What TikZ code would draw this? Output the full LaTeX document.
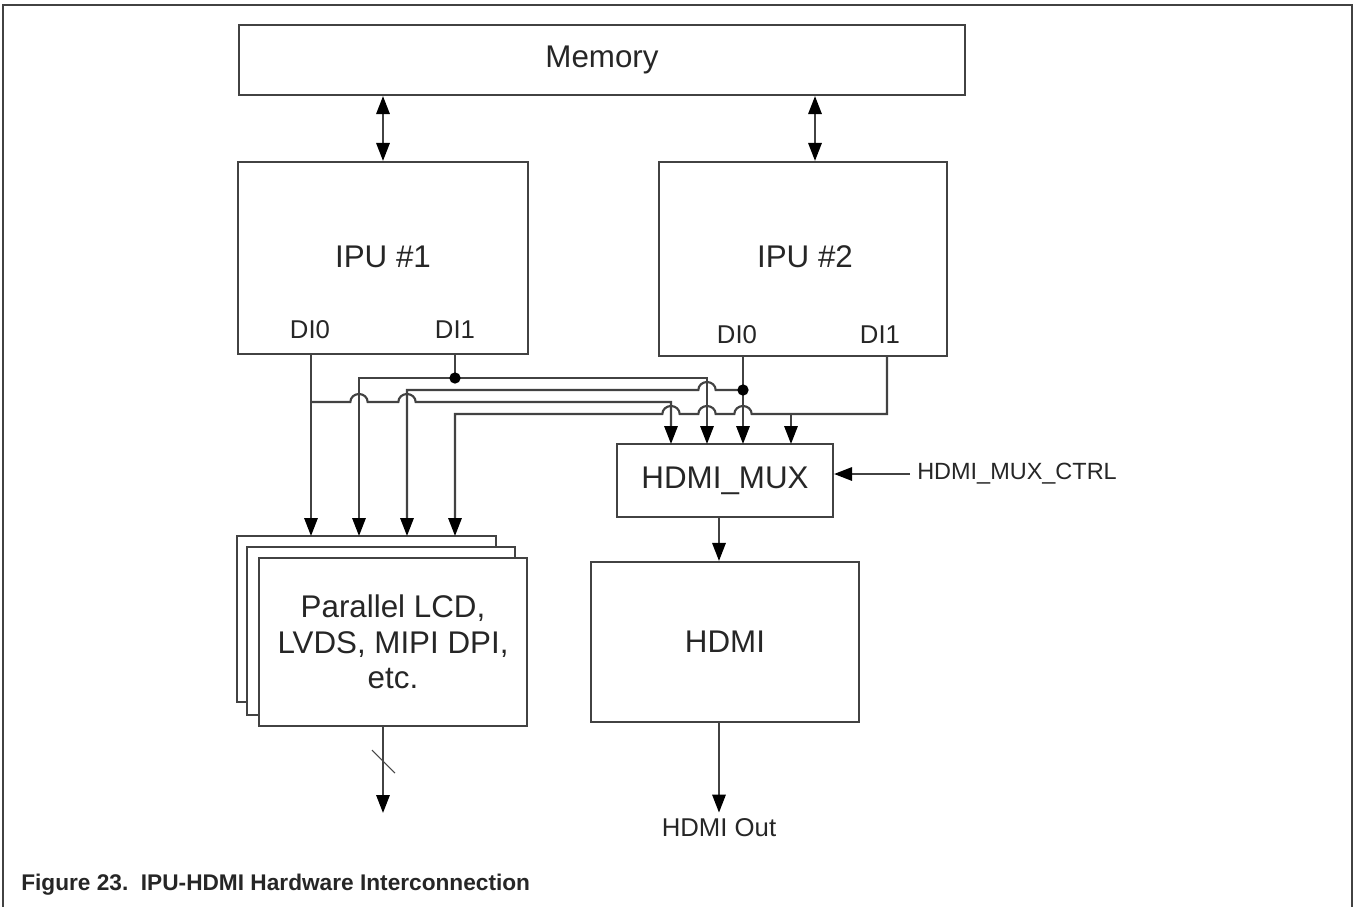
\documentclass[tikz,border=0pt]{standalone}
\usepackage{fontspec}
\setmainfont{Liberation Sans}
\usetikzlibrary{arrows.meta,calc}
\begin{document}
\begin{tikzpicture}[x=0.75pt,y=-0.75pt,
  ln/.style={line width=1.6pt, draw=black!74},
  box/.style={ln, rectangle, inner sep=0pt, fill=white, text=black!85, font=\fontsize{23.5}{26.5}\selectfont, align=center},
  big/.style={inner sep=0pt, text=black!85, font=\fontsize{23.5}{26.5}\selectfont},
  lbl/.style={inner sep=0pt, text=black!85, font=\fontsize{19.3}{22}\selectfont},
  arr/.style={ln, -{Triangle[length=13.5pt,width=10pt,color=black]}},
  larr/.style={ln, {Triangle[length=13.5pt,width=10pt,color=black]}-},
  darr/.style={ln, {Triangle[length=13.5pt,width=10pt,color=black]}-{Triangle[length=13.5pt,width=10pt,color=black]}},
  jdot/.style={circle, fill=black, inner sep=0pt, minimum size=8.5pt},
  hop/.style={insert path={-- ($(#1)+(-6.5pt,0)$) arc[start angle=180, end angle=0, x radius=6.5pt, y radius=6pt]}}
]
\useasboundingbox (0,0) rectangle (1354,907);
% outer frame
\draw[ln] (3,907) -- (3,5) -- (1352,5) -- (1352,907);

% boxes
\node[box, minimum width=544.5pt, minimum height=52.5pt] (mem) at (602,60) {Memory};
\node[box, minimum width=217.5pt, minimum height=144pt] (ipu1) at (383,258) {};
\node[box, minimum width=216pt, minimum height=145.5pt] (ipu2) at (803,259) {};
\node[big] (ipu1t) at (383,257) {IPU \#1};
\node[big] (ipu2t) at (805,257) {IPU \#2};
\node[lbl] (i1d0) at (310,330) {DI0};
\node[lbl] (i1d1) at (455,330) {DI1};
\node[lbl] (i2d0) at (737,335) {DI0};
\node[lbl] (i2d1) at (880,335) {DI1};

\node[box, minimum width=162pt, minimum height=54.75pt] (mux) at (725,480.5) {HDMI\_MUX};
\node[box, minimum width=201pt, minimum height=120pt] (hdmi) at (725,642) {HDMI};

\node[box, minimum width=194.25pt, minimum height=124.5pt] (lcda) at (366.5,619) {};
\node[box, minimum width=201pt, minimum height=126pt] (lcdb) at (381,631) {};
\node[box, minimum width=201pt, minimum height=126pt] (lcdc) at (393,642) {Parallel LCD,\\LVDS, MIPI DPI,\\etc.};

\node[inner xsep=5.25pt, inner ysep=0pt, anchor=west, text=black!85, font=\fontsize{17.6}{20}\selectfont] (ctrl) at (910,474) {HDMI\_MUX\_CTRL};
\node[lbl, inner sep=4.5pt] (out) at (719,828) {HDMI Out};
\node[anchor=west, inner sep=0pt, text=black!85, font=\bfseries\fontsize{17}{20}\selectfont] (cap) at (21,885) {Figure 23.\ \ IPU-HDMI Hardware Interconnection};

% pin coordinates
\coordinate (l1) at (311,536);
\coordinate (l2) at (359,536);
\coordinate (l3) at (407,536);
\coordinate (l4) at (455,536);
\coordinate (m1) at (671,444);
\coordinate (m2) at (707,444);
\coordinate (m3) at (743,444);
\coordinate (m4) at (791,444);
\coordinate (jA) at (311,402);
\coordinate (dot1) at (455,378);
\coordinate (dot2) at (743,390);
\coordinate (jD) at (887,414);
\coordinate (u2) at (815,100);
\coordinate (lo) at (383,813);

% memory links
\draw[darr] (mem.south -| ipu1.north) -- (ipu1.north);
\draw[darr] (mem.south -| u2) -- (ipu2.north -| u2);

% IPU1 DI0
\draw[arr] (ipu1.south -| l1) -- (l1);
\draw[arr] (jA) [hop={l2 |- jA}] [hop={l3 |- jA}] -- (m1 |- jA) -- (m1);
% IPU1 DI1
\draw[ln] (ipu1.south -| dot1) -- (dot1);
\draw[arr] (dot1) -| (l2);
\draw[arr] (dot1) -| (m2);
% IPU2 DI0
\draw[arr] (ipu2.south -| m3) -- (m3);
\draw[larr] (l3) -- (l3 |- dot2) [hop={m2 |- dot2}] -- (dot2);
% IPU2 DI1
\draw[larr] (l4) -- (l4 |- jD) [hop={m1 |- jD}] [hop={m2 |- jD}] [hop={m3 |- jD}] -- (jD) -- (ipu2.south -| jD);
\draw[arr] (m4 |- jD) -- (m4);

\node[jdot] (dt1) at (dot1) {};
\node[jdot] (dt2) at (dot2) {};

% mux control, outputs
\draw[arr] (ctrl.west) -- (ctrl.west -| mux.east);
\draw[arr] (mux.south -| out) -- (hdmi.north -| out);
\draw[arr] (hdmi.south -| out) -- (out.north);
\draw[arr] (lcdc.south -| lo) -- (lo);
\draw[line width=0.8pt, draw=black!72] (372,750) -- (395,773);
\end{tikzpicture}
\end{document}
